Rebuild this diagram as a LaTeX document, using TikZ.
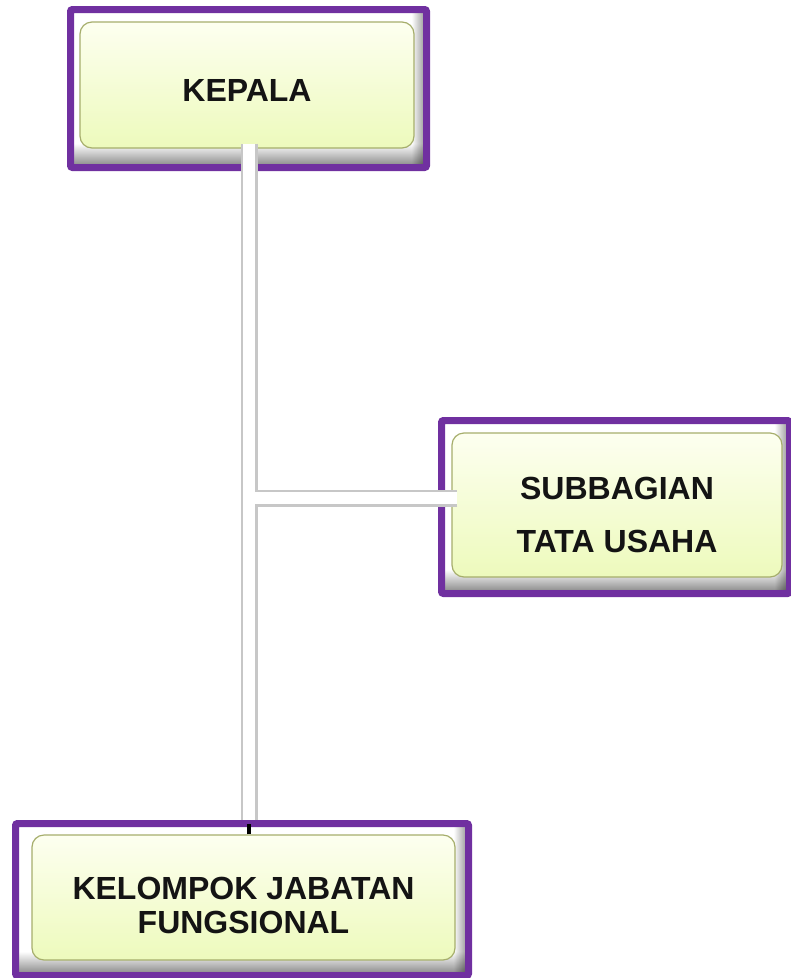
\documentclass[tikz,border=0pt]{standalone}
\usepackage{fontspec}
\setmainfont{Liberation Sans}
\usepackage{tikz}
\definecolor{framepurple}{RGB}{112,48,160}
\definecolor{boxtop}{RGB}{253,255,240}
\definecolor{boxbot}{RGB}{237,250,188}
\definecolor{boxline}{RGB}{166,174,108}
\tikzset{
  unitframe/.style={draw=framepurple, line width=7pt, rounded corners=2pt, fill=white,
    path picture={
      \begin{scope}[blend mode=multiply]
      \shade[left color=white, right color=black!45] ([xshift=-15pt]path picture bounding box.north east) rectangle (path picture bounding box.south east);
      \shade[top color=white, bottom color=black!50] ([yshift=24pt]path picture bounding box.south west) rectangle (path picture bounding box.south east);
      \end{scope}
    }},
  unitbox/.style={draw=boxline, line width=1.2pt, rounded corners=12pt, top color=boxtop, bottom color=boxbot,
    font=\fontsize{32}{34}\selectfont\bfseries, text=black!92, align=center},
  linkshade/.style={draw=black!22, line width=17pt},
  linkcore/.style={draw=white, line width=12pt},
  linktick/.style={draw=black, line width=3.5pt}
}

\begin{document}
\begin{tikzpicture}[x=1pt,y=-1pt]
%\draw [help lines] (0,0) grid (791,978);
\useasboundingbox (0,0) rectangle (791,978);
\node[unitframe, minimum width=356pt, minimum height=158pt] (kepalaframe) at (248.5,88.5) {};
\node[unitframe, minimum width=348pt, minimum height=173pt] (tuframe) at (615.5,507) {};
\node[unitframe, minimum width=453pt, minimum height=152pt] (jfframe) at (242,899.5) {};
\node[unitbox, minimum width=334pt, minimum height=126pt, text height=33pt] (kepala) at (247,85) {KEPALA};
\node[unitbox, minimum width=330pt, minimum height=144pt, text height=96pt] (tu) at (617,505) {SUBBAGIAN\\[19pt]TATA USAHA};
\node[unitbox, minimum width=423pt, minimum height=125pt, text height=72pt] (jf) at (243.5,897.5) {KELOMPOK JABATAN\\FUNGSIONAL};
\coordinate (trunk) at ([xshift=2pt,yshift=5pt]kepala.south);
\coordinate (trunkend) at (trunk |- jfframe.north);
\coordinate (tujoin) at ([xshift=6pt,yshift=7pt]tu.west);
\draw[linkshade] (trunk) -- (trunkend) (tujoin) -- (trunk |- tujoin);
\draw[linkcore] (trunk) -- (trunkend) (tujoin) -- (trunk |- tujoin);
\draw[linktick] (trunk |- jf.north) -- ++(0,-10);
\end{tikzpicture}
\end{document}
